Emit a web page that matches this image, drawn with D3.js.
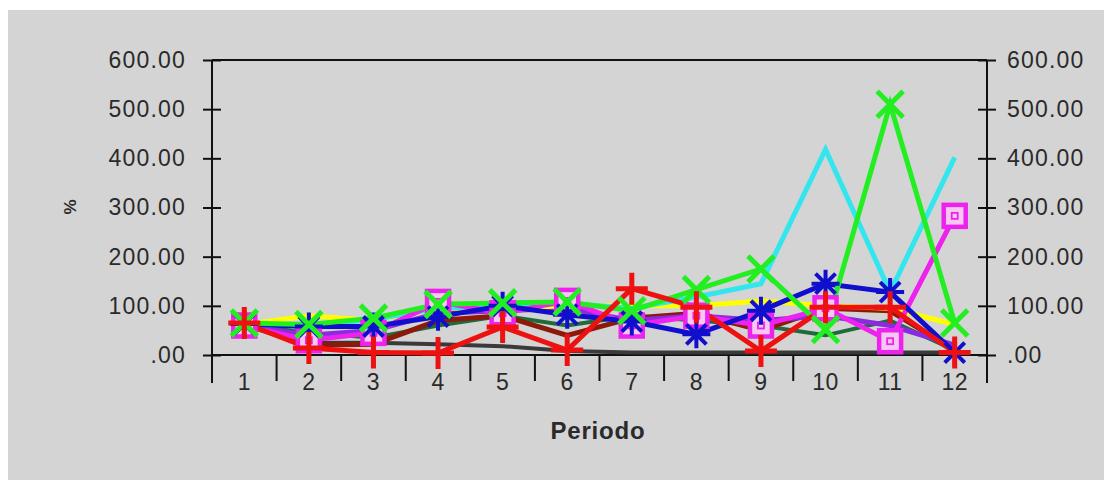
<!DOCTYPE html>
<html>
<head>
<meta charset="utf-8">
<script src="https://cdn.jsdelivr.net/npm/d3@7"></script>
<style>
  html, body { margin: 0; padding: 0; background: #ffffff; }
  svg { display: block; }
  text { font-family: Arial, "Liberation Sans", sans-serif; }
</style>
</head>
<body>
<svg id="chart" width="1112" height="489"></svg>
<script>
// ---- data ----
const categories = ["1","2","3","4","5","6","7","8","9","10","11","12"];
const yTicks = [0, 100, 200, 300, 400, 500, 600];
const xTitle = "Periodo";
const yTitle = "%";

const darkgrayValues  = [62, 25, 25, 22, 18,  8,  5,  5,  5,  5,  5,  5];
const darkgreenValues = [62, 45, 35, 60, 80, 60, 80, 70, 60, 40, 70, 10];
const maroonValues    = [62, 20, 22, 70, 80, 40, 75, 85, 50, 95, 90, 10];
const purpleValues    = [60, 40, 50, 85, 90, 95, 70, 80, 70, 80, 60, 20];
const yellowValues    = [62, 80, 70, 95, 95, 100, 100, 100, 110, 100, 95, 62];
const cyanValues      = [62, 60, 72, 95, 100, 105, 95, 118, 145, 418, 128, 402];
const magentaValues   = [60, 30, 45, 108, 85, 110, 60, 80, 60, 95, 28, 283];
const blueValues      = [63, 58, 58, 78, 100, 82, 68, 42, 90, 145, 128, 5];
const greenValues     = [65, 62, 75, 103, 106, 108, 90, 133, 175, 52, 510, 65];
const redValues       = [65, 14, 5, 4, 57, 10, 135, 97, 8, 97, 97, 5];

const series = [
  { name: "darkgray",  values: darkgrayValues,  color: "#3a3a3a", marker: null },
  { name: "darkgreen", values: darkgreenValues, color: "#1f6b3a", marker: null },
  { name: "maroon",    values: maroonValues,    color: "#8b1a0a", marker: null },
  { name: "purple",    values: purpleValues,    color: "#8a2be2", marker: null },
  { name: "yellow",    values: yellowValues,    color: "#ffff00", marker: null },
  { name: "cyan",      values: cyanValues,      color: "#33e6ee", marker: null },
  { name: "magenta",   values: magentaValues,   color: "#ee22ee", marker: "square" },
  { name: "blue",      values: blueValues,      color: "#1010cc", marker: "star" },
  { name: "green",     values: greenValues,     color: "#22ee22", marker: "x" },
  { name: "red",       values: redValues,       color: "#ee1111", marker: "plus" }
];

// ---- layout ----
const svg = d3.select("#chart");
const L = 212, R = 987, T = 60, B = 355, AXB = 383;
const FONT = "Arial, 'Liberation Sans', sans-serif";

svg.append("rect").attr("x", 8).attr("y", 10).attr("width", 1096).attr("height", 470)
  .attr("fill", "#d4d4d4");

const x = d3.scaleBand().domain(categories).range([L, R]).padding(0);
const y = d3.scaleLinear().domain([0, 600]).range([B, T]);
const cx = d => x(d) + x.bandwidth() / 2;

// frame line on top
svg.append("line").attr("x1", L).attr("x2", R).attr("y1", T).attr("y2", T)
  .attr("stroke", "#111").attr("stroke-width", 2);

const fmt = d => d === 0 ? ".00" : d.toFixed(2);
function styleText(sel) {
  sel.attr("font-size", 23).attr("letter-spacing", 1.2).attr("fill", "#2a2a2a").attr("font-family", FONT);
}

// left axis
const leftAxis = svg.append("g").attr("transform", `translate(${L},0)`)
  .call(d3.axisLeft(y).tickValues(yTicks).tickFormat(fmt).tickSize(9).tickPadding(17));
leftAxis.select(".domain").remove();
leftAxis.selectAll(".tick line").attr("x1", -9).attr("x2", 9).attr("stroke", "#111").attr("stroke-width", 2);
styleText(leftAxis.selectAll(".tick text"));
leftAxis.append("line").attr("x1", 0).attr("x2", 0).attr("y1", T).attr("y2", AXB)
  .attr("stroke", "#111").attr("stroke-width", 2);

// right axis
const rightAxis = svg.append("g").attr("transform", `translate(${R},0)`)
  .call(d3.axisRight(y).tickValues(yTicks).tickFormat(fmt).tickSize(9).tickPadding(11));
rightAxis.select(".domain").remove();
rightAxis.selectAll(".tick line").attr("x1", -9).attr("x2", 9).attr("stroke", "#111").attr("stroke-width", 2);
styleText(rightAxis.selectAll(".tick text"));
rightAxis.append("line").attr("x1", 0).attr("x2", 0).attr("y1", T).attr("y2", AXB)
  .attr("stroke", "#111").attr("stroke-width", 2);

// bottom axis
const bottomAxis = svg.append("g").attr("transform", `translate(0,${B})`)
  .call(d3.axisBottom(x).tickSize(0).tickPadding(19));
bottomAxis.select(".domain").remove();
styleText(bottomAxis.selectAll(".tick text"));
bottomAxis.selectAll(".tick text").attr("letter-spacing", 0.5);
bottomAxis.append("line").attr("x1", L).attr("x2", R).attr("y1", 0).attr("y2", 0)
  .attr("stroke", "#111").attr("stroke-width", 2);
bottomAxis.selectAll("line.sep").data(categories.slice(1)).enter().append("line")
  .attr("class", "sep")
  .attr("x1", d => x(d)).attr("x2", d => x(d)).attr("y1", 0).attr("y2", 26)
  .attr("stroke", "#111").attr("stroke-width", 2);

// titles
svg.append("text").attr("x", 598).attr("y", 439).attr("text-anchor", "middle")
  .attr("font-size", 24).attr("font-weight", "bold").attr("letter-spacing", 0.8)
  .attr("fill", "#2a2a2a").attr("font-family", FONT).text(xTitle);
svg.append("text").attr("transform", "translate(76,207) rotate(-90)")
  .attr("text-anchor", "middle").attr("font-size", 17).attr("font-weight", "bold")
  .attr("fill", "#2a2a2a").attr("font-family", FONT).text(yTitle);

// series lines
const line = d3.line().x((d, i) => cx(categories[i])).y(d => y(d));
const plot = svg.append("g");

function drawMarker(g, type, color, px, py) {
  const m = g.append("g").attr("transform", `translate(${px},${py})`);
  if (type === "x") {
    const s = 13;
    m.append("path").attr("d", `M${-s},${-s}L${s},${s}M${-s},${s}L${s},${-s}`)
      .attr("stroke", color).attr("stroke-width", 5).attr("fill", "none");
  } else if (type === "plus") {
    const s = 16;
    m.append("path").attr("d", `M${-s},0L${s},0M0,${-s}L0,${s}`)
      .attr("stroke", color).attr("stroke-width", 5).attr("fill", "none");
  } else if (type === "star") {
    const s = 14, k = 10;
    m.append("path").attr("d", `M${-s},0L${s},0M0,${-s}L0,${s}M${-k},${-k}L${k},${k}M${-k},${k}L${k},${-k}`)
      .attr("stroke", color).attr("stroke-width", 4).attr("fill", "none");
  } else if (type === "square") {
    const s = 11;
    m.append("rect").attr("x", -s).attr("y", -s).attr("width", 2 * s).attr("height", 2 * s)
      .attr("fill", "#f4c8f0").attr("stroke", color).attr("stroke-width", 4.5);
    m.append("rect").attr("x", -3).attr("y", -3).attr("width", 6).attr("height", 6)
      .attr("fill", "none").attr("stroke", color).attr("stroke-width", 1.8);
  }
}

series.forEach(s => {
  plot.append("path").datum(s.values).attr("d", line)
    .attr("fill", "none").attr("stroke", s.color)
    .attr("stroke-width", s.name === "darkgray" || s.name === "darkgreen" ? 4 : 5)
    .attr("stroke-linejoin", "miter");
});
series.forEach(s => {
  if (!s.marker) return;
  const g = plot.append("g");
  s.values.forEach((v, i) => drawMarker(g, s.marker, s.color, cx(categories[i]), y(v)));
});
</script>
</body>
</html>
